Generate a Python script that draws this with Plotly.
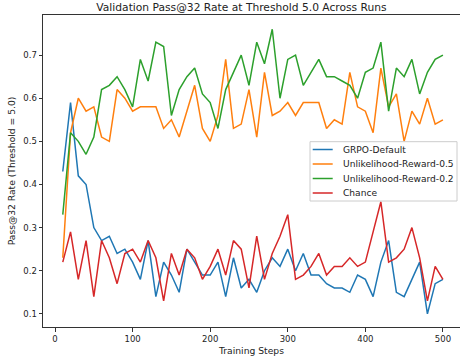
import plotly.graph_objects as go

steps = list(range(10, 510, 10))

grpo_default = [0.43, 0.59, 0.42, 0.40, 0.30, 0.27, 0.28, 0.24, 0.25, 0.22,
                0.18, 0.27, 0.14, 0.22, 0.19, 0.15, 0.25, 0.22, 0.19, 0.19,
                0.22, 0.14, 0.23, 0.16, 0.18, 0.15, 0.20, 0.23, 0.21, 0.25,
                0.20, 0.24, 0.19, 0.19, 0.17, 0.16, 0.16, 0.15, 0.19, 0.18,
                0.14, 0.22, 0.27, 0.15, 0.14, 0.18, 0.22, 0.10, 0.17, 0.18]

unlikelihood_05 = [0.23, 0.52, 0.60, 0.57, 0.58, 0.51, 0.50, 0.62, 0.60, 0.57,
                   0.58, 0.58, 0.58, 0.53, 0.55, 0.51, 0.57, 0.63, 0.53, 0.50,
                   0.56, 0.69, 0.53, 0.54, 0.62, 0.51, 0.66, 0.56, 0.57, 0.59,
                   0.56, 0.59, 0.59, 0.59, 0.53, 0.55, 0.54, 0.66, 0.58, 0.57,
                   0.52, 0.67, 0.58, 0.61, 0.50, 0.57, 0.54, 0.60, 0.54, 0.55]

unlikelihood_02 = [0.33, 0.52, 0.50, 0.47, 0.51, 0.62, 0.63, 0.65, 0.62, 0.58,
                   0.69, 0.64, 0.73, 0.72, 0.56, 0.62, 0.65, 0.67, 0.61, 0.59,
                   0.53, 0.62, 0.66, 0.70, 0.63, 0.73, 0.68, 0.76, 0.60, 0.69,
                   0.70, 0.63, 0.66, 0.69, 0.65, 0.65, 0.64, 0.63, 0.60, 0.66,
                   0.67, 0.73, 0.57, 0.67, 0.65, 0.69, 0.61, 0.66, 0.69, 0.70]

chance = [0.22, 0.29, 0.18, 0.27, 0.14, 0.27, 0.23, 0.17, 0.24, 0.25,
          0.22, 0.27, 0.23, 0.13, 0.24, 0.19, 0.25, 0.23, 0.18, 0.21,
          0.25, 0.19, 0.27, 0.25, 0.16, 0.28, 0.18, 0.24, 0.28, 0.33,
          0.18, 0.19, 0.21, 0.24, 0.19, 0.21, 0.21, 0.23, 0.21, 0.22,
          0.29, 0.36, 0.22, 0.23, 0.25, 0.30, 0.23, 0.13, 0.21, 0.18]

series_names = ["GRPO-Default", "Unlikelihood-Reward-0.5", "Unlikelihood-Reward-0.2", "Chance"]
series_values = [grpo_default, unlikelihood_05, unlikelihood_02, chance]
colors = ["#1f77b4", "#ff7f0e", "#2ca02c", "#d62728"]

x_ticks = [0, 100, 200, 300, 400, 500]
y_ticks = [0.1, 0.2, 0.3, 0.4, 0.5, 0.6, 0.7]

W, H = 460, 363
ML, MR, MT, MB = 43, 0, 15, 36
PW, PH = W - ML - MR, H - MT - MB


def px_x(px):
    return (px - ML) / PW


def px_y(py):
    return (H - MB - py) / PH


fig = go.Figure()
for name, vals, c in zip(series_names, series_values, colors):
    fig.add_trace(go.Scatter(x=steps, y=vals, mode="lines", name=name,
                             line=dict(color=c, width=1.5), showlegend=False))

font_family = "DejaVu Sans"
txt_color = "#222222"

# Manual legend (matplotlib-like compact box)
shapes = [dict(type="rect", xref="paper", yref="paper", layer="above",
               x0=px_x(310), x1=px_x(457), y0=px_y(201), y1=px_y(141.7),
               fillcolor="rgba(255,255,255,0.8)", line=dict(color="#cccccc", width=1))]
annotations = []
row0, row_gap = 149.5, 14.5
for i, (name, c) in enumerate(zip(series_names, colors)):
    ry = row0 + i * row_gap
    shapes.append(dict(type="line", xref="paper", yref="paper", layer="above",
                       x0=px_x(312.7), x1=px_x(332.7), y0=px_y(ry), y1=px_y(ry),
                       line=dict(color=c, width=1.5)))
    annotations.append(dict(text=name, xref="paper", yref="paper", x=px_x(340.5), y=px_y(ry),
                            xanchor="left", yanchor="middle", showarrow=False,
                            font=dict(size=9.1, family=font_family, color=txt_color)))

fig.update_layout(
    width=W, height=H,
    margin=dict(l=ML, r=MR, t=MT, b=MB),
    paper_bgcolor="white", plot_bgcolor="white",
    font=dict(family=font_family, size=9, color=txt_color),
    title=dict(text="Validation Pass@32 Rate at Threshold 5.0 Across Runs",
               x=241.5 / W, xanchor="center", xref="container",
               y=1 - 7.5 / H, yanchor="middle", yref="container",
               font=dict(size=10.7, family=font_family, color=txt_color)),
    showlegend=False,
    shapes=shapes,
    annotations=annotations,
)
fig.update_xaxes(range=[-15.5, 522], tickvals=x_ticks, ticks="outside", ticklen=3.5,
                 tickcolor="#333333", showline=True, linecolor="#333333", linewidth=1,
                 mirror=True, showgrid=False, zeroline=False,
                 tickfont=dict(size=8.5), title=dict(text="Training Steps", font=dict(size=9.2), standoff=4))
fig.update_yaxes(range=[0.0695, 0.793], tickvals=y_ticks, ticktext=[str(v) for v in y_ticks],
                 ticks="outside", ticklen=3.5,
                 tickcolor="#333333", showline=True, linecolor="#333333", linewidth=1,
                 mirror=False, showgrid=False, zeroline=False,
                 tickfont=dict(size=8.5), title=dict(text="Pass@32 Rate (Threshold = 5.0)", font=dict(size=9.2), standoff=6))

fig.write_html("out.html")
